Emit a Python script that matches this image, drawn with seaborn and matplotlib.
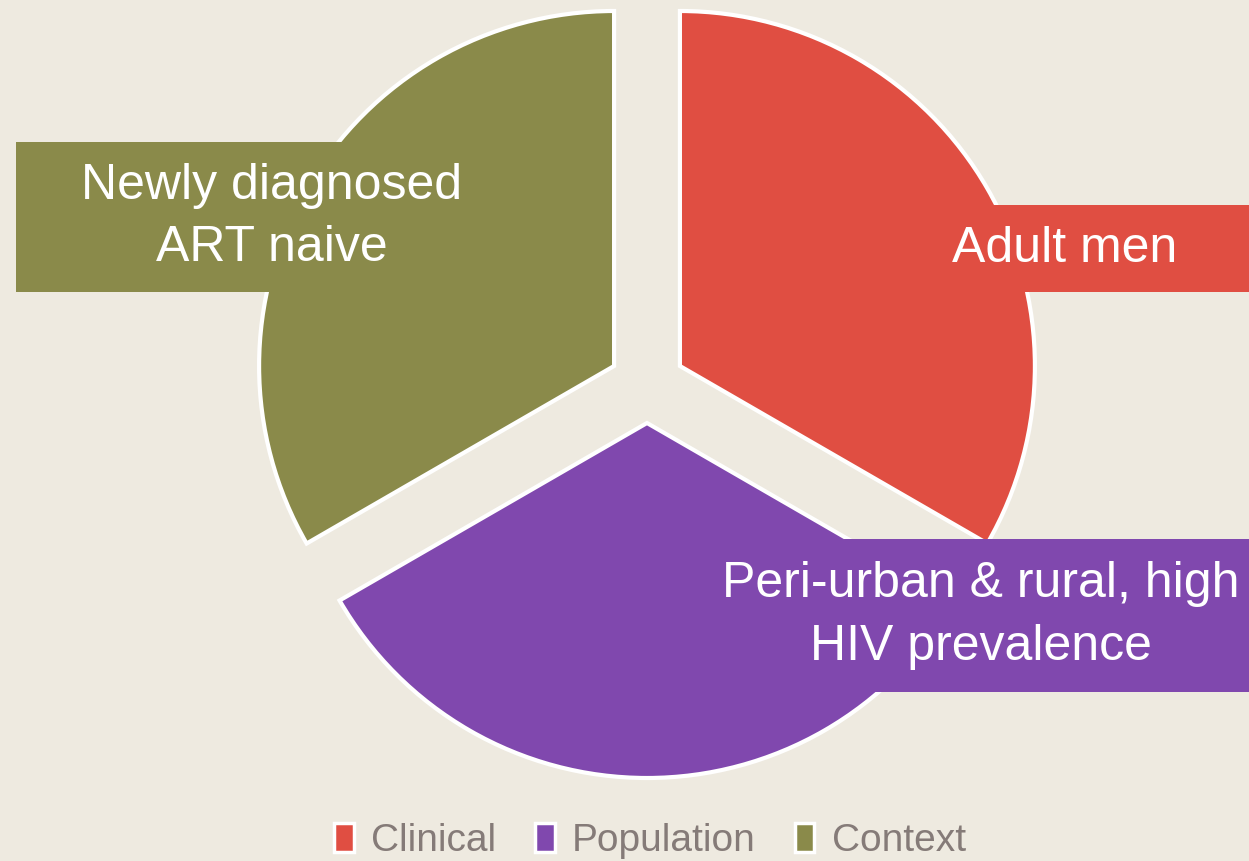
import matplotlib
matplotlib.use("Agg")
import matplotlib.pyplot as plt
import seaborn as sns
from matplotlib.patches import Patch, Rectangle

sns.set_style("white")
plt.rcParams['font.family'] = ['Liberation Sans', 'DejaVu Sans']

categories = ["Clinical", "Population", "Context"]
values = [1, 1, 1]
labels = ["Adult men", "Peri-urban & rural, high\nHIV prevalence", "Newly diagnosed\nART naive"]
colors = ["#E04E42", "#8048AE", "#8A8A4A"]
bg = "#EEEAE0"

W, H = 1249, 861
fig = plt.figure(figsize=(W / 100, H / 100), dpi=100, facecolor=bg)
ax = fig.add_axes([0, 0, 1, 1])
ax.set_facecolor(bg)

cx, cy, r, ex = 647, H - 385, 355, 38
wedges, _ = ax.pie(values, colors=colors, startangle=90, counterclock=False,
                   center=(cx, cy), radius=r, explode=[ex] * 3, frame=True,
                   wedgeprops=dict(edgecolor="white", linewidth=3.0))
ax.set_xlim(0, W)
ax.set_ylim(0, H)
ax.set_aspect("auto")
ax.axis("off")

# label boxes (x0, y_top, x1, y_bottom in pixel coords from top)
boxes = [(880, 205, 1249, 292), (712, 539, 1249, 692), (16, 142, 528, 292)]
for (x0, yt, x1, yb), lab, col in zip(boxes, labels, colors):
    ax.add_patch(Rectangle((x0, H - yb), x1 - x0, yb - yt, facecolor=col,
                           edgecolor="none", zorder=3))
    ax.text((x0 + x1) / 2, H - (yt + yb) / 2, lab, ha="center", va="center",
            color="white", fontsize=36, linespacing=1.45, zorder=4)

handles = [Patch(facecolor=c, edgecolor="white", linewidth=2.5) for c in colors]
leg = fig.legend(handles, categories, loc="center", bbox_to_anchor=(650 / W, 1 - 841 / H),
                 ncol=3, frameon=False, handlelength=0.5, handleheight=0.75,
                 handletextpad=0.45, columnspacing=1.0,
                 prop={'family': ['Liberation Sans Narrow', 'Liberation Sans'], 'size': 28})
for t in leg.get_texts():
    t.set_color("#857B78")

fig.savefig("out.png", dpi=100, facecolor=bg)
